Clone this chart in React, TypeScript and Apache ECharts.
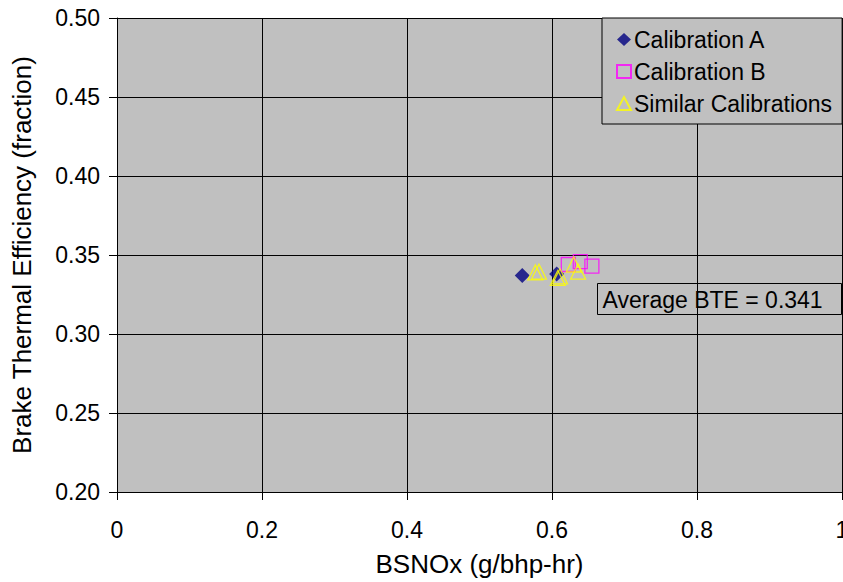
import React, { useEffect, useRef } from "react";
import * as echarts from "echarts";

const calibrationA: number[][] = [
  [0.559, 0.337],
  [0.6065, 0.338],
];
const calibrationB: number[][] = [
  [0.6225, 0.344],
  [0.639, 0.3458],
  [0.655, 0.343],
];
const similarCalibrations: number[][] = [
  [0.577, 0.339],
  [0.582, 0.3395],
  [0.608, 0.3355],
  [0.611, 0.3365],
  [0.63, 0.344],
  [0.636, 0.3395],
];
const annotationText = "Average BTE = 0.341";
const xName = "BSNOx (g/bhp-hr)";
const yName = "Brake Thermal Efficiency (fraction)";

const FONT = "'Liberation Sans', Arial, sans-serif";

export default function App() {
  const ref = useRef<HTMLDivElement>(null);
  useEffect(() => {
    if (!ref.current) return;
    const chart = echarts.init(ref.current, undefined, { renderer: "svg" });
    chart.setOption({
      animation: false,
      backgroundColor: "#ffffff",
      textStyle: { fontFamily: FONT },
      grid: {
        left: 117,
        top: 18,
        width: 725,
        height: 474,
        show: true,
        backgroundColor: "#C0C0C0",
        borderWidth: 0,
        outerBoundsMode: "none",
        containLabel: false,
      },
      xAxis: {
        type: "value",
        min: 0,
        max: 1,
        interval: 0.2,
        name: xName,
        nameLocation: "middle",
        nameGap: 59,
        nameTextStyle: { fontSize: 26, color: "#000", fontFamily: FONT },
        axisLine: { show: true, onZero: false, lineStyle: { color: "#000", width: 1 } },
        axisTick: { show: true, inside: false, length: 8, lineStyle: { color: "#000" } },
        axisLabel: {
          fontSize: 23,
          color: "#000",
          margin: 26,
          fontFamily: FONT,
          showMaxLabel: true,
          hideOverlap: false,
          formatter: (v: number) => String(parseFloat(v.toFixed(1))),
        },
        splitLine: { show: true, lineStyle: { color: "#000", width: 1 } },
      },
      yAxis: {
        type: "value",
        min: 0.2,
        max: 0.5,
        interval: 0.05,
        name: yName,
        nameLocation: "middle",
        nameGap: 82,
        nameTextStyle: { fontSize: 26, color: "#000", fontFamily: FONT },
        axisLine: { show: true, lineStyle: { color: "#000", width: 1 } },
        axisTick: { show: true, inside: false, length: 8, lineStyle: { color: "#000" } },
        axisLabel: {
          fontSize: 23,
          color: "#000",
          margin: 17,
          fontFamily: FONT,
          formatter: (v: number) => v.toFixed(2),
        },
        splitLine: { show: true, lineStyle: { color: "#000", width: 1 } },
      },
      legend: {
        show: true,
        orient: "vertical",
        left: 602,
        top: 18,
        padding: [10, 10, 9, 14],
        itemGap: 9,
        itemWidth: 14,
        itemHeight: 13,
        backgroundColor: "#C0C0C0",
        borderColor: "#000",
        borderWidth: 1,
        textStyle: { fontSize: 23, color: "#000", fontFamily: FONT, padding: [0, 0, 0, -2] },
        data: [
          { name: "Calibration A", icon: "diamond" },
          { name: "Calibration B", icon: "rect" },
          { name: "Similar Calibrations", icon: "triangle" },
        ],
      },
      graphic: [
        {
          type: "group",
          left: 597,
          top: 283,
          children: [
            {
              type: "rect",
              shape: { x: 0, y: 0, width: 244, height: 31 },
              style: { fill: "#C0C0C0", stroke: "#000", lineWidth: 1 },
            },
            {
              type: "text",
              x: 5,
              y: 16,
              style: {
                text: annotationText,
                fontSize: 23,
                fontFamily: FONT,
                fill: "#000",
                verticalAlign: "middle",
              },
            },
          ],
        },
      ],
      series: [
        {
          name: "Calibration A",
          type: "scatter",
          symbol: "diamond",
          symbolSize: 15,
          data: calibrationA,
          itemStyle: { color: "#000080" },
        },
        {
          name: "Calibration B",
          type: "scatter",
          symbol: "rect",
          symbolSize: 14,
          data: calibrationB,
          itemStyle: { color: "transparent", borderColor: "#FF00FF", borderWidth: 1.3 },
        },
        {
          name: "Similar Calibrations",
          type: "scatter",
          symbol: "triangle",
          symbolSize: 15,
          data: similarCalibrations,
          itemStyle: { color: "transparent", borderColor: "#FFFF00", borderWidth: 1.3 },
        },
      ],
    });
    return () => chart.dispose();
  }, []);
  return (
    <div
      ref={ref}
      style={{ position: "absolute", left: 0, top: 0, width: 843, height: 582 }}
    />
  );
}
